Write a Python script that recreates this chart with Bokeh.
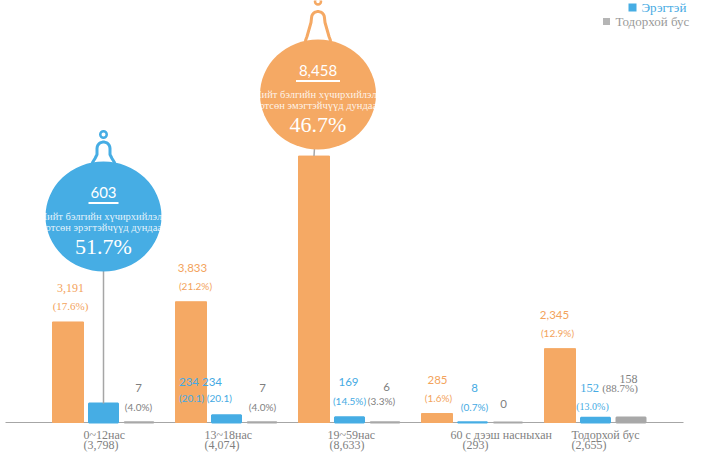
import numpy as np
from bokeh.plotting import figure
from bokeh.models import ColumnDataSource, Range1d
from bokeh.core.properties import value
from bokeh.embed import file_html
from bokeh.resources import INLINE

# ---------------- data ----------------
categories = ["0~12нас", "13~18нас", "19~59нас", "60 с дээш насныхан", "Тодорхой бус"]
category_totals = ["(3,798)", "(4,074)", "(8,633)", "(293)", "(2,655)"]
female = [3191, 3833, 8458, 285, 2345]
male = [603, 234, 169, 8, 152]
unknown = [7, 7, 6, 0, 158]
female_labels = ["3,191", "3,833", "", "285", "2,345"]
female_pct = ["(17.6%)", "(21.2%)", "", "(1.6%)", "(12.9%)"]
male_labels = ["", "234 234", "169", "8", "152"]
male_pct = ["", "(20.1) (20.1)", "(14.5%)", "(0.7%)", "(13.0%)"]
unknown_labels = ["7", "7", "6", "0", "158"]
unknown_pct = ["(4.0%)", "(4.0%)", "(3.3%)", "", "(88.7%)"]
female_share = "46.7%"
male_share = "51.7%"
female_caption = ["Нийт бэлгийн хүчирхийлэлд", "өртсөн эмэгтэйчүүд дундаас"]
male_caption = ["Нийт бэлгийн хүчирхийлэлд", "өртсөн эрэгтэйчүүд дундаас"]
legend_labels = ["Эрэгтэй", "Тодорхой бус"]

# ---------------- style / layout ----------------
ORANGE = "#F5A964"
ORANGE_TXT = "#F3A35C"
BLUE = "#46ADE4"
BLUE_TXT = "#45AAE3"
GRAY = "#A8A8A8"
GRAY_TXT = "#7F7F7F"
LINE = "#A6A6A6"
SANS = "Lato"
SERIF = "Liberation Serif"

W, H = 691, 453
K = 0.0315          # px per case
BASE_REF = 432      # baseline in reference px
TOP_REF = 10        # reference px shown at the top edge of the plot
S = 123.0           # px between groups
X0 = 103.0          # px of the first group centre
OFF = 35.5 / S
BW = 31.0 / S


def X(px):  # reference px -> data x
    return (px - X0) / S


def Y(py):  # reference px -> data y
    return (BASE_REF - py) / K


p = figure(width=W, height=H, output_backend="svg", toolbar_location=None,
           x_range=Range1d(X(0), X(W)),
           y_range=Range1d(Y(TOP_REF + H), Y(TOP_REF)),
           x_axis_type=None, y_axis_type=None, min_border=0)
p.grid.visible = False
p.outline_line_color = None

idx = np.arange(len(categories))
xf = idx - OFF
xm = idx.astype(float)
xu = idx + OFF

# baseline
p.segment(x0=[X(5)], y0=[0], x1=[X(683)], y1=[0], line_color=LINE, line_width=1)

# bars
p.vbar(x=xf, top=female, bottom=0, width=BW, fill_color=ORANGE, line_color=ORANGE, line_width=1)
p.vbar(x=xm, top=male, bottom=0, width=BW - 2 / S, fill_color=BLUE, line_color=BLUE, line_width=2)
p.vbar(x=xu, top=unknown, bottom=0, width=BW - 2 / S, fill_color=GRAY, line_color=GRAY, line_width=2)


# value labels
def add_labels(xs, tops, texts, pcts, color, fonts, cdx, cdy, pdx, pdy, csize, psize):
    src = ColumnDataSource(dict(x=list(xs), y=list(tops), t=texts, f=fonts,
                                dx=cdx, dy=cdy, s=csize))
    p.text(x="x", y="y", text="t", source=src, x_offset="dx", y_offset="dy",
           text_font="f", text_font_size="s", text_color=color,
           text_align="center", text_baseline="middle")
    src2 = ColumnDataSource(dict(x=list(xs), y=list(tops), t=pcts, f=fonts,
                                 dx=pdx, dy=pdy, s=psize))
    p.text(x="x", y="y", text="t", source=src2, x_offset="dx", y_offset="dy",
           text_font="f", text_font_size="s", text_color=color,
           text_align="center", text_baseline="middle")


add_labels(xf, female, female_labels, female_pct, ORANGE_TXT,
           [SERIF, SANS, SANS, SANS, SANS],
           [2.5, 1.5, 0, 0.5, -5.5], [-34] * 5,
           [2.5, 4.5, 0, 1.5, -2.5], [-16] * 5,
           ["12px", "11.5px", "11.5px", "11.5px", "11.5px"],
           ["11px", "10px", "10px", "10px", "10px"])
add_labels(xm, male, male_labels, male_pct, BLUE_TXT,
           [SANS, SANS, SANS, SANS, SERIF],
           [0, -26, -1, 2, -6], [-34, -34, -35, -34, -30],
           [0, -21, 0, 2, -3], [-16, -17, -16, -15, -11],
           ["11.5px", "11.5px", "11.5px", "11.5px", "12.5px"],
           ["10px", "10px", "10px", "10px", "10px"])
add_labels(xu, unknown, unknown_labels, unknown_pct, GRAY_TXT,
           [SANS, SANS, SANS, SANS, SERIF],
           [-0.5, 0.5, 1.5, -4.5, -2.5], [-34, -34, -35, -19, -39],
           [-0.5, 0.5, -3.5, 0, -11], [-15, -15, -21, 0, -30],
           ["11.5px", "11.5px", "11.5px", "11.5px", "12px"],
           ["10px", "10px", "10px", "10px", "11px"])

# category labels
cat_src = ColumnDataSource(dict(x=xm, y=[0] * 5, t=categories, t2=category_totals,
                                dx=[-20, -22, -22, -22, -24], dx2=[-20, -22, -20, -10, -24]))
p.text(x="x", y="y", text="t", source=cat_src, x_offset="dx", y_offset=12.5,
       text_font=value(SERIF), text_font_size="12px", text_color="#7F7F7F",
       text_align="left", text_baseline="middle")
p.text(x="x", y="y", text="t2", source=cat_src, x_offset="dx2", y_offset=22.5,
       text_font=value(SERIF), text_font_size="12px", text_color="#7F7F7F",
       text_align="left", text_baseline="middle")


# ornaments
def ornament(bx, btop, dxpx, cy_ref, color, number, caption, share, ul_half, bell, ring_dy, ring_d):
    cx = bx + dxpx / S
    cy = Y(cy_ref)
    half_h = 55
    top_ref = cy_ref - half_h
    # connector
    p.segment(x0=[bx], y0=[btop], x1=[cx], y1=[cy], line_color=LINE, line_width=1.5)
    # ball
    p.ellipse(x=[cx], y=[cy], width=116, height=110, width_units="screen",
              height_units="screen", fill_color=color, line_color=None)
    # hook: bell + ring
    p.line(x=[cx + d / S for d, _ in bell], y=[Y(top_ref + e) for _, e in bell],
           line_color=color, line_width=3, line_join="round", line_cap="round")
    p.scatter(x=[cx], y=[Y(top_ref + ring_dy)], marker="circle", size=ring_d,
              fill_color="white", line_color=color, line_width=2.5)
    # texts
    p.text(x=[cx], y=[cy], text=[number], y_offset=-24, text_font=value(SANS),
           text_font_size="15px", text_color="white", text_align="center",
           text_baseline="middle")
    p.segment(x0=[cx - ul_half / S], y0=[Y(cy_ref - 13.5)], x1=[cx + ul_half / S],
              y1=[Y(cy_ref - 13.5)], line_color="white", line_width=2)
    p.text(x=[cx, cx], y=[cy, cy], text=caption, y_offset=[0, 10.5],
           text_font=value(SERIF), text_font_size="10.5px", text_color="white",
           text_alpha=0.88, text_align="center", text_baseline="middle")
    p.text(x=[cx], y=[cy], text=[share], y_offset=29.5, text_font=value(SERIF),
           text_font_size="22px", text_color="white", text_align="center",
           text_baseline="middle")


def arch(r, yc, n=12):
    a = np.linspace(np.pi, 0, n)
    return [(r * np.cos(t), yc - r * np.sin(t)) for t in a]


blue_bell = [(-11, 1), (-8.5, -3), (-6.5, -7)] + arch(6.5, -13) + [(6.5, -7), (8.5, -3), (11, 1)]
orange_bell = [(-12.5, 1), (-11, -3), (-9, -10), (-7, -17)] + arch(6.5, -21.5) + \
              [(7, -17), (9, -10), (11, -3), (12.5, 1)]

ornament(xm[0], male[0], 0, 226, BLUE, f"{male[0]:,}", male_caption, male_share, 15,
         blue_bell, -27, 6.5)
ornament(xf[2], female[2], 4, 104, ORANGE, f"{female[2]:,}", female_caption, female_share, 22,
         orange_bell, -38, 6)

# legend fragment (top right)
p.scatter(x=[X(632), X(606)], y=[Y(17), Y(31)], marker="square", size=[8, 7],
          fill_color=[BLUE, "#B5B5B5"], line_color=None)
p.text(x=[X(641), X(615)], y=[Y(17), Y(31)], text=legend_labels,
       text_font=value(SERIF), text_font_size="13px", text_color=[BLUE_TXT, "#9A9A9A"],
       text_align="left", text_baseline="middle")

open("out.html", "w").write(file_html(p, INLINE))
